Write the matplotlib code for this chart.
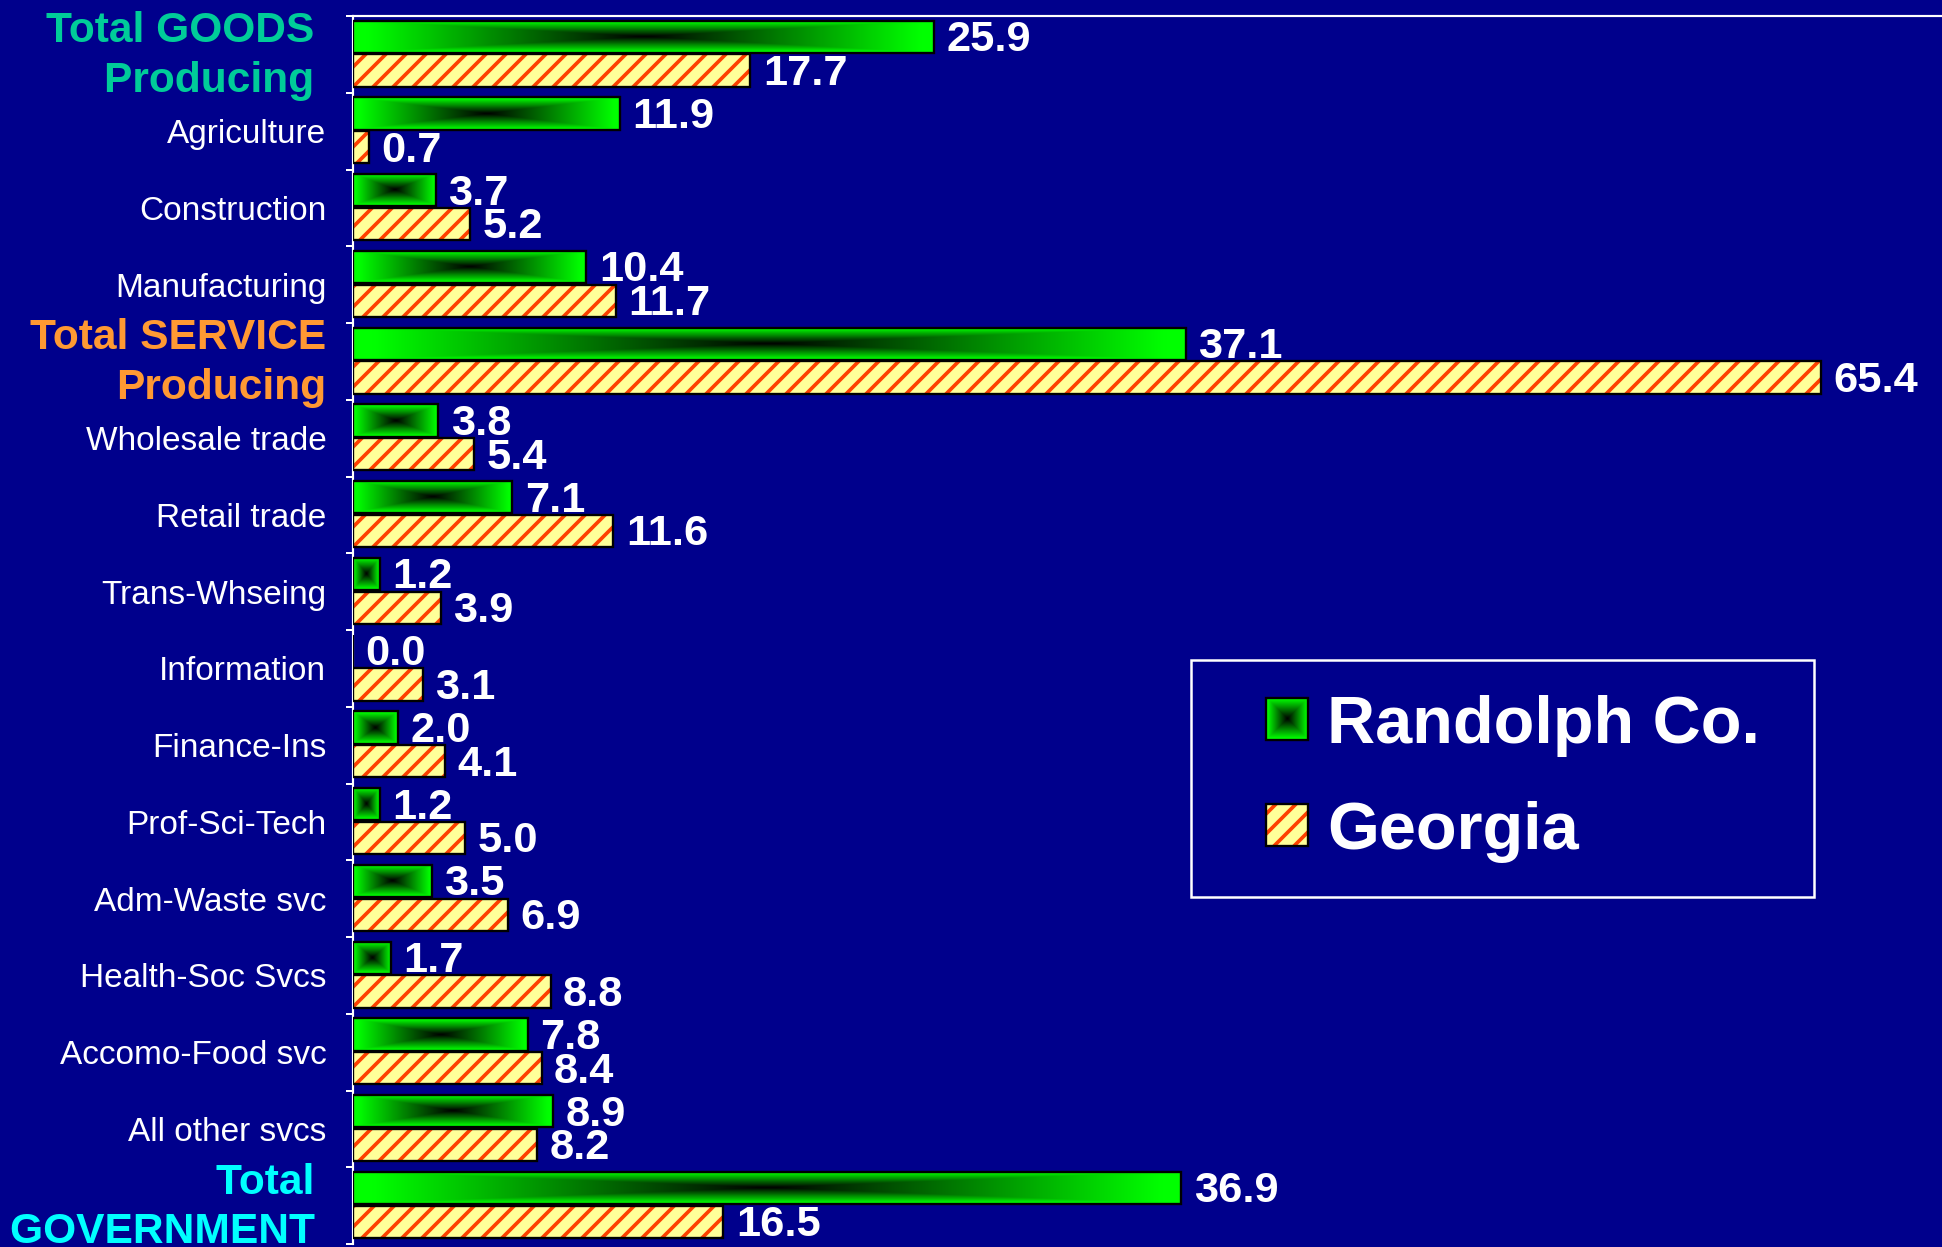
import numpy as np
import matplotlib
matplotlib.use('Agg')
import matplotlib.pyplot as plt
from matplotlib.patches import Rectangle
from matplotlib.legend_handler import HandlerBase
from matplotlib.image import BboxImage
from matplotlib.transforms import Bbox, TransformedBbox, ScaledTranslation

# data
categories = ['Total GOODS \nProducing ', 'Agriculture', 'Construction', 'Manufacturing',
              'Total SERVICE\nProducing', 'Wholesale trade', 'Retail trade', 'Trans-Whseing',
              'Information', 'Finance-Ins', 'Prof-Sci-Tech', 'Adm-Waste svc',
              'Health-Soc Svcs', 'Accomo-Food svc', 'All other svcs', 'Total \nGOVERNMENT ']
randolph = [25.9, 11.9, 3.7, 10.4, 37.1, 3.8, 7.1, 1.2, 0.0, 2.0, 1.2, 3.5, 1.7, 7.8, 8.9, 36.9]
georgia = [17.7, 0.7, 5.2, 11.7, 65.4, 5.4, 11.6, 3.9, 3.1, 4.1, 5.0, 6.9, 8.8, 8.4, 8.2, 16.5]
series_names = ['Randolph Co.', 'Georgia']
total_colors = {0: '#00CC99', 4: '#FF9933', 15: '#00FFFF'}

BG = '#00008C'
GEO_FACE = '#FFFF99'
GEO_HATCH = '#FF4000'

plt.rcParams['font.family'] = ['Liberation Sans', 'DejaVu Sans']
plt.rcParams['hatch.linewidth'] = 2.2


def box_gradient(ny, nx):
    # black in the middle, bright green at the edges (rectangular gradient)
    u = np.abs(np.linspace(-1, 1, nx))
    w = np.abs(np.linspace(-1, 1, ny))
    t = np.maximum(u[None, :], w[:, None])
    img = np.zeros((ny, nx, 3))
    img[..., 1] = np.clip(t * 1.05, 0, 1)
    return img


class GreenBoxHandler(HandlerBase):
    def create_artists(self, legend, orig_handle, xdescent, ydescent,
                       width, height, fontsize, trans):
        x = width - height - xdescent
        y = -ydescent
        img = BboxImage(TransformedBbox(Bbox.from_bounds(x, y, height, height), trans),
                        interpolation='bilinear')
        img.set_data(box_gradient(40, 40))
        border = Rectangle((x, y), height, height, facecolor='none',
                           edgecolor='black', lw=1.4, transform=trans)
        return [img, border]


class HatchBoxHandler(HandlerBase):
    def create_artists(self, legend, orig_handle, xdescent, ydescent,
                       width, height, fontsize, trans):
        x = width - height - xdescent
        y = -ydescent
        fill = Rectangle((x, y), height, height, facecolor=GEO_FACE,
                         edgecolor=GEO_HATCH, hatch='//', lw=0, transform=trans)
        border = Rectangle((x, y), height, height, facecolor='none',
                           edgecolor='black', lw=1.4, transform=trans)
        return [fill, border]


W, H, DPI = 1942, 1247, 120
fig = plt.figure(figsize=(W / DPI, H / DPI), dpi=DPI, facecolor=BG)
ax = fig.add_axes([353 / W, 1 - 1244 / H, 1 - 353 / W, 1228 / H])
ax.set_facecolor(BG)

pos = np.arange(len(categories))
bh = 0.42

# Randolph: outline bars + gradient images inside
green = ax.barh(pos - 0.23, randolph, height=bh, facecolor='none',
                edgecolor='black', lw=1.4, zorder=3)
for r in green:
    x0, y0, w, h = r.get_x(), r.get_y(), r.get_width(), r.get_height()
    if w > 0:
        ax.imshow(box_gradient(40, 240), extent=[x0, x0 + w, y0 + h, y0],
                  aspect='auto', interpolation='bilinear', zorder=2)

# Georgia: hatched bars
ax.barh(pos + 0.21, georgia, height=bh, facecolor=GEO_FACE,
        edgecolor=GEO_HATCH, hatch='//', lw=0, zorder=2)
orange = ax.barh(pos + 0.21, georgia, height=bh, facecolor='none',
                 edgecolor='black', lw=1.4, zorder=3)

# value labels
for bars, vals in ((green, randolph), (orange, georgia)):
    for r, v in zip(bars, vals):
        ax.annotate(f'{v:.1f}', xy=(r.get_width(), r.get_y() + r.get_height() / 2),
                    xytext=(7.5, -8.7), textcoords='offset points',
                    ha='left', va='baseline', color='white',
                    fontsize=26, fontweight='bold')

ax.set_xlim(0, 70.8)
ax.set_ylim(15.5, -0.5)
ax.set_aspect('auto')

ax.set_xticks([])
ax.set_yticks(pos)
ax.set_yticklabels(categories)
ax.set_yticks(np.arange(-0.5, len(categories), 1), minor=True)
ax.tick_params(axis='y', which='major', length=0, pad=16)
ax.tick_params(axis='y', which='minor', length=4.2, width=1.2, color='white', direction='out')
lift = ScaledTranslation(0, 4.5 / 72, fig.dpi_scale_trans)
for i, lab in enumerate(ax.get_yticklabels()):
    if i in total_colors:
        lab.set_color(total_colors[i])
        lab.set_fontsize(25.5)
        lab.set_fontweight('bold')
        lab.set_linespacing(1.3)
        lab.set_multialignment('right')
        lab.set_transform(lab.get_transform() + lift)
    else:
        lab.set_color('white')
        lab.set_fontsize(20)

for s in ['right', 'bottom']:
    ax.spines[s].set_visible(False)
for s in ['top', 'left']:
    ax.spines[s].set_color('white')
    ax.spines[s].set_linewidth(1.3)

# legend
h1 = Rectangle((0, 0), 1, 1, label=series_names[0])
h2 = Rectangle((0, 0), 1, 1, label=series_names[1])
leg = ax.legend(handles=[h1, h2], handler_map={h1: GreenBoxHandler(), h2: HatchBoxHandler()},
                loc='upper left',
                bbox_to_anchor=(1191 / W, 1 - 892 / H, 623 / W, 232 / H),
                bbox_transform=fig.transFigure, mode='expand', borderaxespad=0,
                borderpad=0.52, handlelength=1.24, handleheight=0.6,
                handletextpad=0.28, labelspacing=0.66, fancybox=False,
                framealpha=1, facecolor=BG, edgecolor='white',
                prop={'weight': 'bold', 'size': 40}, labelcolor='white')
leg.get_frame().set_linewidth(1.5)

fig.savefig('out.png', dpi=DPI, facecolor=BG)
